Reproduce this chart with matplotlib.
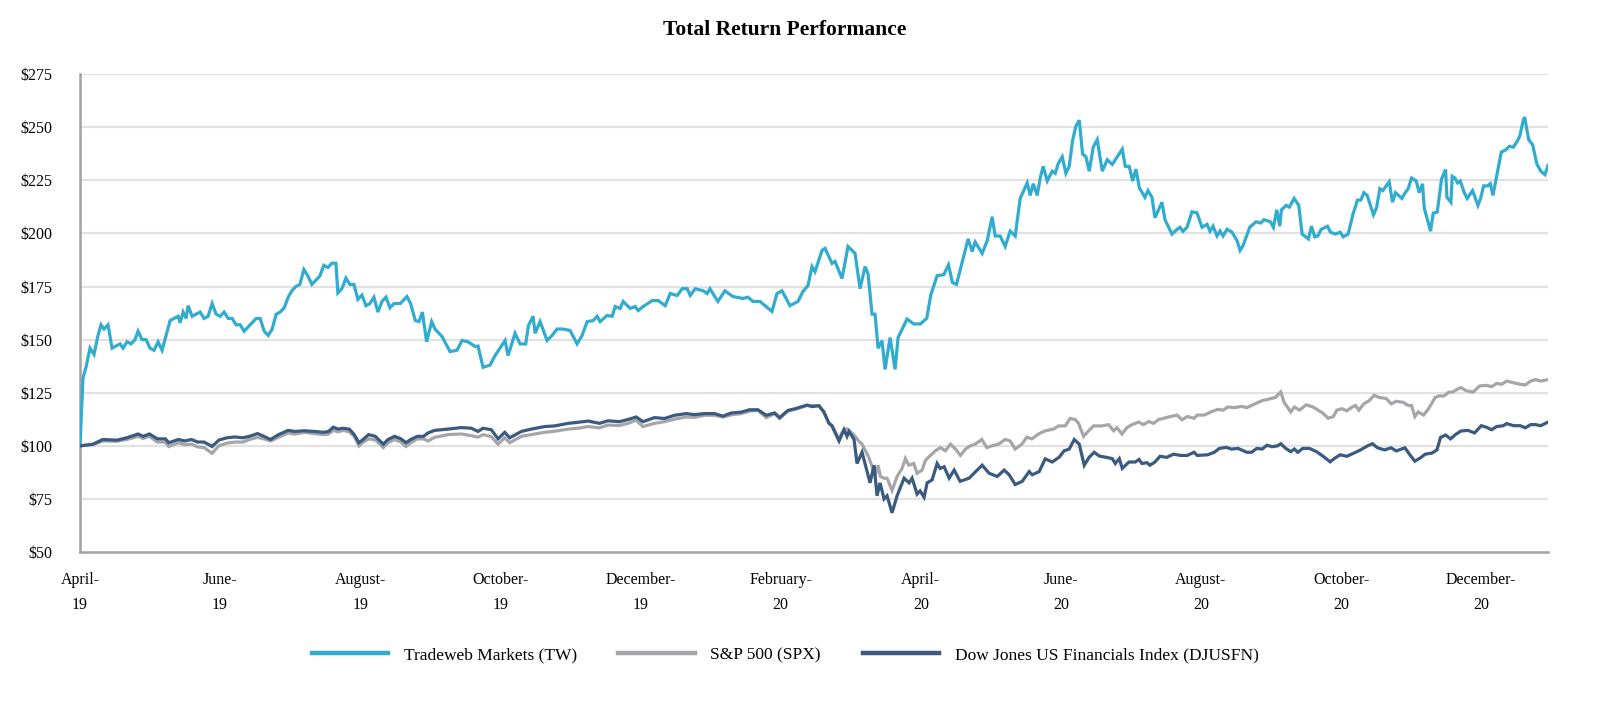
import matplotlib
matplotlib.use("Agg")
import matplotlib.pyplot as plt

# ---------------- data (trading-day index from Apr 4 2019, value of $100 invested) -------------
tw_day = [0, 0.9, 1.8, 3.0, 4.2, 5.4, 6.3, 7.2, 8.4, 9.6, 10.8, 12.0, 12.9, 14.1, 15.3, 16.5, 17.4, 18.6,
          19.8, 21.0, 22.2, 23.4, 24.6, 25.8, 27.0, 28.2, 29.4, 30.0, 30.9, 31.8, 32.4, 33.6, 34.8, 36.0,
          37.2, 38.4, 39.6, 40.8, 42.0, 43.2, 44.4, 45.6, 46.8, 48.0, 49.2, 50.4, 51.6, 52.8, 54.0, 55.2,
          56.4, 57.6, 58.8, 60.0, 61.2, 62.4, 63.5, 64.7, 65.9, 67.1, 68.3, 69.5, 70.7, 71.9, 73.1, 74.3,
          75.5, 76.7, 77.3, 78.5, 79.7, 80.9, 82.1, 83.3, 84.5, 85.7, 86.9, 88.1, 89.3, 90.5, 91.7, 92.9,
          94.1, 95.3, 96, 98, 99.1, 100.5, 101.6, 102.6, 103.9, 105.4, 106.4, 108.5, 110.9, 113, 114.5,
          116.3, 118.4, 119.3, 120.8, 122.9, 124.4, 127.4, 128.3, 130.4, 131.9, 133.6, 134.4, 135.8, 136.4,
          137.9, 140, 141.5, 143, 144.8, 146.9, 149, 150.5, 152, 153.8, 155, 155.9, 158, 159.5, 160.4,
          161.9, 162.8, 164.9, 166.4, 167.3, 168.8, 171.5, 173.3, 175.4, 176.9, 179, 180.5, 182, 182.9,
          184.4, 186.8, 188, 188.8, 191.2, 193.3, 195.7, 198.7, 200.2, 201.7, 203.8, 207.4, 208.9, 210.4,
          212.8, 215.2, 216.7, 218.2, 219.4, 220.3, 222.4, 223.3, 225.4, 226.3, 228.4, 230.2, 232.3, 233.8,
          235.3, 236.2, 237.4, 238.3, 239.2, 240.4, 241.3, 242.8, 244.3, 245.2, 247.9, 249.9, 251.9, 253.8,
          255.0, 256.9, 258.9, 260.3, 261.5, 262.7, 266.2, 267.4, 268.3, 270.4, 271.9, 273.4, 274.3, 275.8,
          277.3, 278.8, 280.3, 281.8, 283.9, 284.8, 285.7, 286.9, 287.8, 288.7, 289.9, 291.4, 292.3, 293.2,
          294.4, 295.5, 296.5, 297.5, 298.5, 299.5, 300.5, 301.5, 302.5, 303.7, 304.9, 306.4, 307.9, 309.4,
          312.4, 313.3, 314.5, 315.5, 316.5, 317.5, 319.2, 320.1, 321.3, 322.2, 324.3, 325.2, 327.3, 328.8,
          329.7, 330.6, 331.8, 333.3, 334.8, 336.3, 337.8, 338.7, 339.6, 340.8, 341.7, 342.6, 343.8, 345.3,
          346.8, 347.7, 348.6, 350.6, 352.5, 353.9, 354.9, 356.8, 357.7, 358.7, 359.6, 360.1, 361.5, 362.5,
          363.9, 365.3, 366.3, 368.2, 369.1, 370.1, 371, 372, 373.9, 374.8, 376.3, 377.7, 378.6, 380.1,
          381.5, 382.9, 383.9, 384.8, 385.8, 387.7, 388.6, 389.6, 390.5, 391.5, 392.4, 393.4, 394.3, 396.2,
          397.2, 398.1, 399.1, 400.5, 401.4, 402.4, 402.9, 404.8, 405.6, 406.8, 408.1, 409.3, 409.7, 410.9,
          411.3, 412.1, 412.9, 413.7, 414.9, 415.8, 417.4, 419.0, 419.8, 420.7, 421.9, 422.7, 423.5, 426.0,
          427.2, 428.4, 429.6, 430.9, 431.6, 432.5, 433.0, 434.2, 435.4, 436.7, 437.9, 439.1, 440]
tw_val = [100, 132, 137, 146, 143, 152, 157, 155, 157, 146, 147, 148, 146, 149, 148, 150, 154, 150,
          150, 146, 145, 149, 145, 152, 159, 160, 161, 158, 163, 160, 166, 161, 162, 163,
          160, 161, 167, 162, 161, 163, 160, 160, 157, 157, 154, 156, 158, 160, 160, 154,
          152, 155, 162, 163, 165, 170, 173, 175, 176, 183, 180, 176, 178, 180, 185, 184,
          186, 186, 172, 174, 179, 176, 176, 169, 171, 166, 167, 170, 163, 168, 170, 165,
          167, 167, 167, 170.3, 167, 159, 158.5, 163, 149, 158.5, 155, 151.5, 144.4, 145, 149.6,
          149, 146.8, 147, 137, 138, 142.5, 149.6, 142.5, 153, 148, 148, 156.6, 161, 153,
          158.5, 149.6, 152, 155, 155, 154.3, 148, 152, 158.5, 159, 161, 158.5, 161.4, 161, 165.6,
          164.7, 168, 164.7, 165.6, 163.7, 165.6, 168.4, 168.4, 166, 171.7, 170.8, 174, 174, 170.8,
          174, 173, 171.7, 174, 168, 173, 170.3, 169.4, 170, 168, 168, 163.3, 171.7, 173,
          166, 168, 172.7, 175.5, 184.4, 182, 192, 193, 185.9, 186.8, 178.8, 193.9, 190.6, 174,
          184.4, 181, 162, 162, 146, 149.5, 136, 151, 136, 151, 159.7, 157.4, 157.4, 160.1,
          171, 180.1, 180.6, 185.2, 176.9, 176, 197.4, 191.5, 196, 190.6, 196.5, 207.9, 198.8, 198.8,
          193.9, 201.1, 198.8, 216.5, 223.8, 217.9, 223.4, 217.9, 226.1, 231.6, 224.7, 229.3, 228.3, 232.9,
          236.1, 228.3, 231.6, 243.7, 250.6, 253.3, 237.4, 236.1, 229.3, 240.7, 244.2, 229.3, 234.7, 232.5,
          239.7, 231.6, 231.6, 224.7, 230.3, 221.5, 217, 220.2, 217, 207.4, 214.7, 206.5, 199.7, 201.9,
          202.9, 201, 202.9, 210.2, 209.7, 202.9, 204.3, 201, 203.4, 198.8, 201.1, 198.8, 202, 200.6,
          196.6, 192, 194.3, 202.9, 205.5, 204.9, 206.5, 205.5, 202.9, 211.1, 203.4, 211.1, 213.2, 212.4,
          216.5, 213.2, 199.7, 197.4, 203.4, 198.4, 198.8, 201.9, 203.4, 200.6, 199.7, 200.6, 198.4, 199.7,
          208.8, 215.7, 215.7, 219.2, 217.9, 208.8, 212, 221.1, 220.2, 222.4, 224.3, 214.7, 219.2, 216.5,
          219.2, 221.1, 226.1, 224.7, 219.2, 223.4, 212, 201.1, 209.6, 210.1, 225.6, 230.1, 217, 214.7,
          226.9, 226.1, 223.8, 224.7, 219.2, 216.5, 220.2, 213.2, 216.5, 222.4, 222.4, 223.4, 217.9, 238.3,
          239.2, 241, 240.6, 243.7, 246.1, 252.8, 254.8, 244.2, 241.7, 232.5, 229.2, 227.7, 232]

spx_day = [0, 3.9, 6.8, 11.1, 14, 17.4, 18.9, 20.8, 23.2, 25.6, 26.6, 29.5, 31.4, 33.4, 35.3, 37.2, 39.6,
           41.6, 44, 46.4, 48.8, 50.8, 53.2, 55.1, 57.1, 59.5, 62.4, 64.3, 67.2, 70.1, 73, 74.5, 75.9,
           77.4, 78.8, 80.7, 82.2, 83.6, 84.6, 86.5, 88.5, 89.9, 90.9, 92.3, 94.3, 96.2, 97.7, 99.1, 101.1,
           103, 104.3, 106.3, 110.3, 114.3, 117.3, 119.3, 120.8, 123.3, 125.3, 127.3, 128.8, 132.3, 135.3,
           139.3, 142.3, 146.3, 149.3, 152.3, 155.7, 158.2, 161.7, 164.2, 166.7, 168.7, 172.2, 175.2, 178.2,
           181.7, 184.2, 187.2, 190.2, 192.7, 195.2, 198.2, 200.7, 203.2, 205.7, 208.2, 209.7, 212.2, 214.2,
           217.9, 221.4, 222.9, 224.4, 225.4, 227.4, 228.9, 229.9, 231.9, 233.4, 234.4, 235.9, 236.4, 237.4,
           238.4, 239.2, 239.9, 240.9, 241.9, 243.4, 244.9, 246.4, 247.4, 248.4, 249.9, 250.9, 252.4, 253.4,
           254.9, 256.4, 257.9, 259.4, 260.9, 262.4, 263.9, 265.4, 266.8, 268.3, 270.3, 271.8, 273.3, 275.3,
           277.3, 278.8, 280.3, 282.3, 283.8, 285.3, 287.3, 289.3, 291.8, 293.3, 295.3, 296.8, 298.3, 299.3,
           300.8, 302.3, 303.8, 306.3, 308.3, 309.8, 310.8, 312.3, 313.8, 315.3, 317.3, 318.8, 320.3, 321.8,
           323.3, 326.8, 328.8, 330.3, 331.9, 333.9, 334.9, 337, 339, 341, 342.6, 344.1, 346.1, 348.2, 349.7,
           352.2, 354.3, 356.3, 358.3, 359.9, 360.9, 362.9, 364, 365.5, 367.5, 369.6, 371.1, 372.6, 374.1,
           375.7, 376.7, 378.2, 379.7, 381.3, 382.3, 383.3, 384.8, 386.4, 387.9, 389.4, 391.5, 393, 394.5,
           396.6, 398.1, 399.1, 400.1, 401.1, 402.7, 404.2, 406.2, 407.3, 408.8, 410.3, 411.3, 412.9, 413.9,
           415.4, 417.5, 419.5, 421.5, 423.1, 424.6, 426.1, 427.6, 429.7, 431.7, 433.2, 434.8, 436.3, 437.8, 440]
spx_val = [100, 100.6, 102.3, 102.2, 103, 104.5, 103.5, 104.5, 101.8, 101.8, 99.7, 101.5, 100.5, 100.8, 99.5,
           99.2, 96.5, 100, 101.3, 101.8, 101.8, 103, 104, 103.3, 102.3, 104, 106.1, 105.5, 106.4, 105.8,
           105.3, 105.6, 107.3, 106.6, 107.3, 106.6, 104.5, 100, 101.5, 103.3, 102.8, 100.8, 99.2, 101.5,
           103, 101.8, 99.7, 101.5, 103.3, 103.3, 102.3, 104, 105.3, 105.6, 104.8, 104.1, 105.3, 104.3,
           100.8, 103.8, 101.5, 104.5, 105.3, 106.4, 106.9, 107.9, 108.3, 109.1, 108.5, 109.8, 109.6,
           110.6, 112.1, 109.1, 110.6, 111.4, 112.6, 113.6, 113.4, 114.4, 114.4, 113.6, 114.6, 115.2,
           116.4, 116.7, 113.3, 115.2, 112.9, 116.4, 117.2, 119, 118.9, 115.9, 110.9, 109.6, 103.3, 107.6,
           108, 105.3, 102.3, 100.8, 96.2, 94.7, 90.2, 86.4, 90.9, 85.6, 84.8, 84.8, 79, 85.6, 89.4, 94,
           90.9, 91.7, 87.1, 88.6, 93.2, 95.5, 97.7, 99.2, 97.7, 100.8, 98.5, 95.5, 98.5, 100, 100.8, 103,
           99.2, 100, 100.8, 103, 102.3, 98.5, 100.8, 104.1, 103.3, 105.6, 107.1, 107.9, 109.4, 109.4,
           112.9, 112.4, 110.6, 104.5, 107.1, 109.4, 109.4, 110, 107.1, 108.6, 105.6, 108.6, 110, 111.2,
           110, 111.5, 110.6, 112.4, 113.8, 114.5, 112.3, 113.8, 113, 114.5, 114.5, 116, 117.2, 116.8,
           118.3, 118, 118.6, 118, 119.8, 121.3, 122, 122.8, 125.4, 120.5, 116, 118.3, 116.8, 119.3,
           118.3, 116.8, 115.3, 113, 113.8, 116.8, 117.5, 116.5, 118.3, 119, 116.8, 119.8, 121.3, 123.8,
           122.8, 122.3, 119.8, 121, 120.5, 119, 119, 113.8, 116, 114.5, 117.5, 122.8, 123.5, 123.5,
           125.3, 125.3, 126.7, 127.5, 126, 125.3, 128.2, 128.5, 127.9, 129.4, 129, 130.5, 129.7, 129,
           128.7, 130.5, 131.2, 130.5, 131.2]

dj_day = [0, 3.9, 6.8, 11.1, 14, 17.4, 18.9, 20.8, 23.2, 25.6, 26.6, 29.5, 31.4, 33.4, 35.3, 37.2, 39.6,
          41.6, 44, 46.4, 48.8, 50.8, 53.2, 55.1, 57.1, 59.5, 62.4, 64.3, 67.2, 70.1, 73, 74.5, 75.9,
          77.4, 78.8, 80.7, 82.2, 83.6, 84.6, 86.5, 88.5, 89.9, 90.9, 92.3, 94.3, 96.2, 97.7, 99.1, 101.1,
          103, 104.3, 106.3, 110.3, 114.3, 117.3, 119.3, 120.8, 123.3, 125.3, 127.3, 128.8, 132.3, 135.3,
          139.3, 142.3, 146.3, 149.3, 152.3, 155.7, 158.2, 161.7, 164.2, 166.7, 168.7, 172.2, 175.2, 178.2,
          181.7, 184.2, 187.2, 190.2, 192.7, 195.2, 198.2, 200.7, 203.2, 205.7, 208.2, 209.7, 212.2, 214.2,
          217.9, 219.4, 221.5, 223, 224.5, 225.4, 227.5, 229, 229.9, 230.5, 232, 232.9, 234.4, 235.9, 236.8,
          238, 238.9, 239.8, 241, 241.9, 243.4, 244.9, 247, 248.5, 249.4, 250.9, 251.8, 253, 253.9, 255.4,
          256.9, 257.8, 259, 260.5, 262, 263.8, 266.5, 268.9, 270.4, 272.5, 274.9, 277, 278.5, 280.3, 282.4,
          284.5, 285.4, 287.5, 289.3, 291.4, 293.5, 295, 296.5, 298, 299.5, 301, 302.5, 304, 305.5, 307.3,
          309.4, 310.3, 311.5, 312.4, 314.4, 316.3, 317.4, 318.3, 319.8, 320.7, 322.2, 323.7, 325.7, 327.8,
          329.8, 331.9, 333.9, 334.9, 338, 340, 341.5, 343.6, 345.1, 347.1, 349.7, 351.2, 352.7, 354.3,
          355.8, 357.3, 358.9, 359.9, 361.4, 362.9, 364, 365, 366.5, 368.5, 370.6, 372.6, 374.7, 376.2,
          377.7, 379.7, 381.8, 383.8, 385.9, 387.4, 388.9, 391, 393, 394.5, 397.1, 398.6, 400.1, 401.7,
          403.2, 405.2, 406.7, 407.8, 409.3, 410.8, 412.4, 413.9, 416, 418, 420, 421.5, 423.1, 424.6,
          426.6, 427.6, 429.7, 431.7, 433.2, 434.8, 436.3, 437.8, 440]
dj_val = [100, 100.8, 103, 102.7, 103.8, 105.6, 104.5, 105.6, 103.3, 103.3, 101.5, 103, 102.3, 103, 101.8,
          101.8, 99.7, 102.7, 103.8, 104.2, 103.8, 104.5, 105.8, 104.5, 103, 105.3, 107.3, 106.8, 107.1,
          106.8, 106.4, 106.8, 108.8, 107.9, 108.3, 107.9, 105.3, 101.5, 102.7, 105.3, 104.5, 102.3, 100.8,
          103, 104.5, 103.3, 101.5, 103, 104.5, 104.5, 106.1, 107.3, 107.9, 108.6, 108.3, 106.8, 108.3,
          107.6, 103.3, 106.4, 103.8, 106.8, 107.9, 109.1, 109.4, 110.6, 111.1, 111.7, 110.6, 111.8, 111.4,
          112.4, 113.6, 111.4, 113.3, 112.9, 114.4, 115.2, 114.7, 115.2, 115.2, 114, 115.5, 115.9, 117,
          117, 114.4, 115.5, 113.3, 116.7, 117.4, 119.2, 118.5, 118.9, 115.9, 110.6, 109.4, 102.3, 107.6,
          104.5, 106.8, 103, 91.7, 97, 87.9, 82.6, 90.9, 76.5, 82.6, 75, 76.5, 68.5, 76.5, 84.8, 82.6, 84.8,
          77.3, 78.8, 75.8, 82.6, 84, 91.7, 89.4, 90.2, 84.8, 88.6, 83.3, 84.8, 88.6, 90.9, 87.1, 85.6, 88.6,
          86.4, 81.8, 83.3, 87.9, 86.4, 87.9, 93.9, 92.4, 94.7, 97.7, 98.5, 103, 100.8, 90.9, 94.7, 97, 95.2,
          94.7, 94, 91.7, 94, 89.4, 92.4, 92.4, 93.6, 91.7, 92.1, 90.9, 92.4, 95.1, 94.6, 96.1, 95.5, 95.5,
          97, 95.5, 95.8, 97, 98.8, 99.3, 98.5, 98.8, 97, 97, 98.8, 98.5, 100.3, 99.6, 100, 101, 98.8, 97.3,
          98.5, 97, 98.8, 98.8, 97.3, 95.1, 92.5, 94.3, 95.8, 95.1, 96.6, 98.1, 100, 101, 99.1, 98.1, 99.1,
          97.6, 99.1, 95.8, 92.8, 94.3, 96.1, 96.6, 98.1, 104, 105.1, 103.3, 105.5, 107, 107.3, 106.1, 109.5,
          108.8, 107.6, 109.1, 109.5, 110.5, 109.5, 109.5, 108.5, 110, 110, 109.5, 111.2]

series_names = ["Tradeweb Markets (TW)", "S&P 500 (SPX)", "Dow Jones US Financials Index (DJUSFN)"]
series_colors = ["#31ACCF", "#A5A6AA", "#3A5A80"]

tick_days = [0, 42, 84, 126, 168, 210, 252, 294, 336, 378, 420]
tick_labels = ["April-\n19", "June-\n19", "August-\n19", "October-\n19", "December-\n19",
               "February-\n20", "April-\n20", "June-\n20", "August-\n20", "October-\n20", "December-\n20"]
y_ticks = [50, 75, 100, 125, 150, 175, 200, 225, 250, 275]
title = "Total Return Performance"

# ---------------- figure ----------------
plt.rcParams['font.family'] = ['Liberation Serif', 'DejaVu Serif']
fig = plt.figure(figsize=(16, 7.06), dpi=100)
ax = fig.add_axes([0.05, 0.218, 0.9175, 0.677])

lw = 2.3
ax.plot(tw_day, tw_val, color=series_colors[0], lw=lw, label=series_names[0], solid_joinstyle='miter', zorder=3)
ax.plot(spx_day, spx_val, color=series_colors[1], lw=lw, label=series_names[1], solid_joinstyle='miter', zorder=4)
ax.plot(dj_day, dj_val, color=series_colors[2], lw=lw, label=series_names[2], solid_joinstyle='miter', zorder=5)

ax.set_xlim(0, 440)
ax.set_ylim(50, 275)
ax.set_yticks(y_ticks)
ax.set_yticklabels([f"${v}" for v in y_ticks])
ax.set_xticks(tick_days)
ax.set_xticklabels(tick_labels, linespacing=1.75)
ax.tick_params(axis='y', length=0, pad=20, labelsize=11.5, colors='black')
ax.tick_params(axis='x', length=0, pad=14, labelsize=11.5, colors='black')

for v in y_ticks[1:]:
    ax.axhline(v, color='#E2E2E2', lw=1.6, zorder=1)
for s in ['top', 'right']:
    ax.spines[s].set_visible(False)
for s in ['left', 'bottom']:
    ax.spines[s].set_color('#A3A3A3')
    ax.spines[s].set_linewidth(1.8)

fig.text(0.4906, 0.957, title, ha='center', va='center', fontsize=15.5, fontweight='bold')

leg = fig.legend(loc='center', bbox_to_anchor=(0.4906, 0.072), ncol=3, frameon=False,
                 fontsize=12.5, handlelength=4.4, handletextpad=0.9, columnspacing=2.4)
for l in leg.get_lines():
    l.set_linewidth(3.2)

fig.savefig("out.png", dpi=100)
